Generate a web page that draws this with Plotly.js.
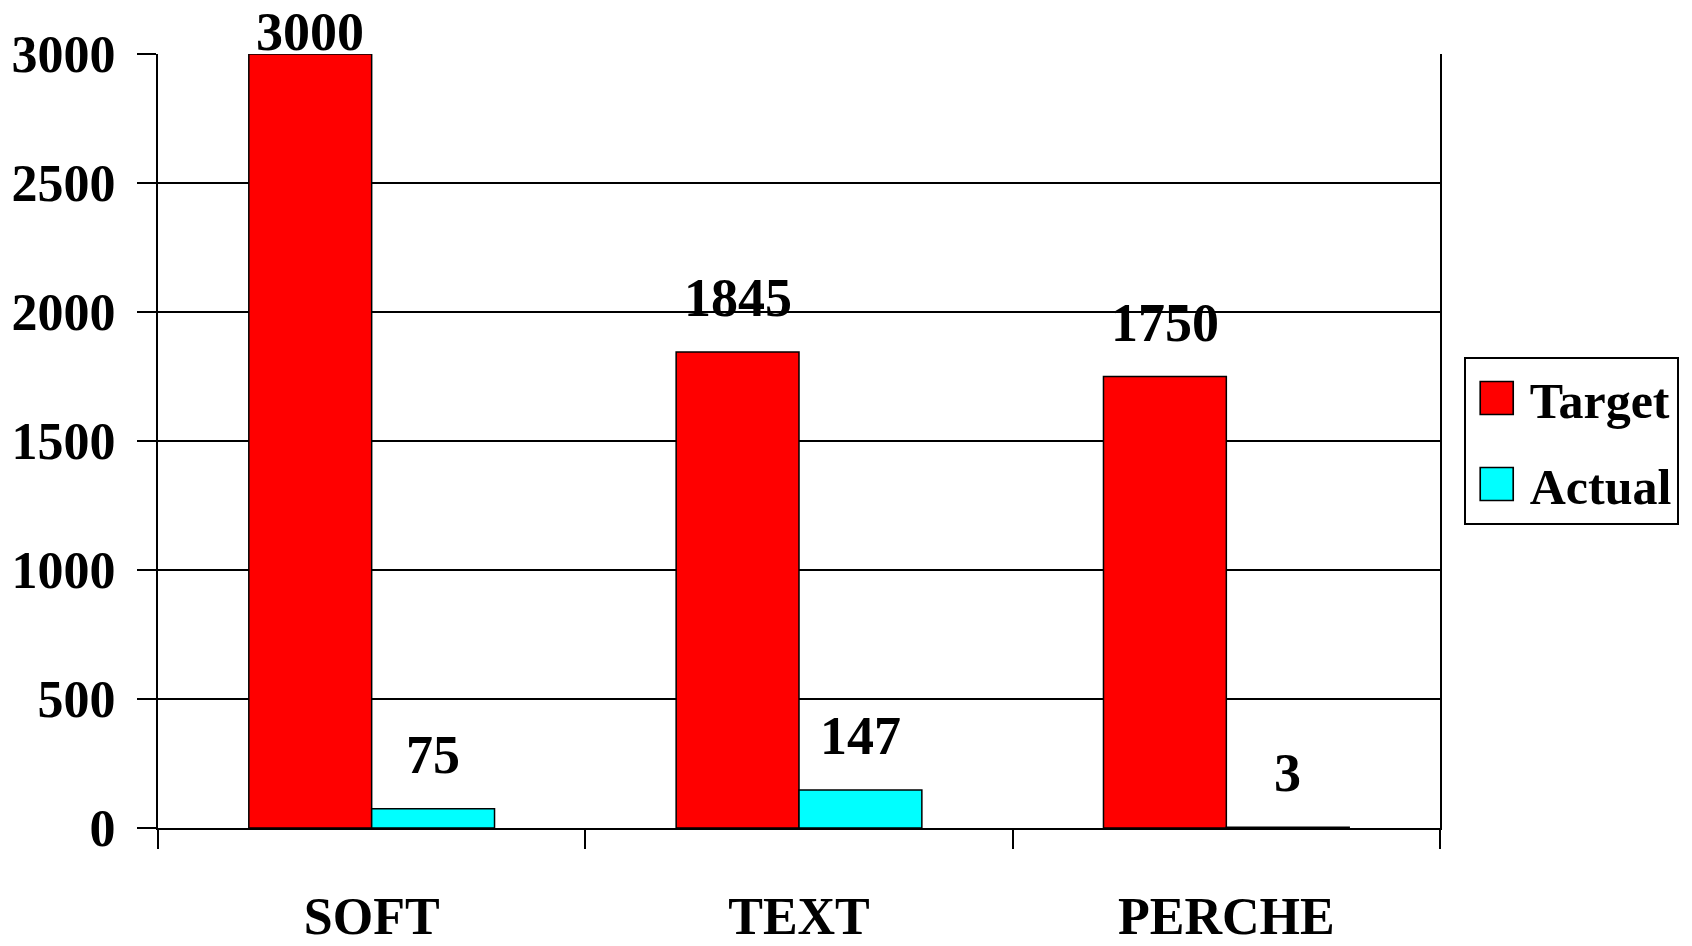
<!DOCTYPE html>
<html>
<head>
<meta charset="utf-8">
<script src="https://cdn.plot.ly/plotly-3.0.1.min.js"></script>
<style>html,body{margin:0;padding:0;background:#fff;}#chart{width:1692px;height:946px;}</style>
</head>
<body>
<div id="chart"></div>
<script>
const categories = ["SOFT", "TEXT", "PERCHE"];
const targetValues = [3000, 1845, 1750];
const actualValues = [75, 147, 3];
const seriesNames = ["Target", "Actual"];
const yTickValues = [0, 500, 1000, 1500, 2000, 2500, 3000];

const W = 1692, H = 946;
const M = {l: 158, r: 252, t: 54, b: 118};
const plotW = W - M.l - M.r, plotH = H - M.t - M.b;
const yMax = 3000;
const bargap = 0.425;
const FONT = "Liberation Serif, Times New Roman, serif";

const catPx = plotW / categories.length;
const barPx = (1 - bargap) / 2 * catPx;
const shiftPx = barPx / 2;

function pixY(v) { return M.t + (1 - v / yMax) * plotH; }
function lift(v) { return Math.min(54, pixY(v) - 32); }

const annotations = [];
[targetValues, actualValues].forEach((vals, si) => {
  vals.forEach((v, i) => {
    annotations.push({
      x: categories[i], y: v, xref: "x", yref: "y",
      text: String(v), showarrow: false,
      xanchor: "center", yanchor: "middle",
      xshift: si === 0 ? -shiftPx : shiftPx,
      yshift: lift(v),
      font: {family: FONT, size: 54, color: "#000", weight: "bold"}
    });
  });
});

const traces = [
  {type: "bar", name: seriesNames[0], x: categories, y: targetValues, legendgroup: "a",
   marker: {color: "#ff0000", line: {color: "#000", width: 1.5}}, hoverinfo: "x+y"},
  {type: "bar", name: seriesNames[1], x: categories, y: actualValues, legendgroup: "b",
   marker: {color: "#00ffff", line: {color: "#000", width: 1.5}}, hoverinfo: "x+y"}
];

const layout = {
  width: W, height: H,
  margin: M,
  paper_bgcolor: "#fff", plot_bgcolor: "#fff",
  barmode: "group", bargap: bargap, bargroupgap: 0,
  font: {family: FONT, size: 50, color: "#000", weight: "bold"},
  xaxis: {
    type: "category", showgrid: false, showline: true, linecolor: "#000", linewidth: 2,
    ticks: "outside", tickson: "boundaries", ticklen: 19, tickwidth: 2, tickcolor: "#000",
    ticklabelstandoff: 42, automargin: false,
    tickfont: {family: FONT, size: 52, color: "#000", weight: "bold"}
  },
  yaxis: {
    range: [0, yMax], tickvals: yTickValues, ticktext: yTickValues.map(String),
    showgrid: true, gridcolor: "#000", gridwidth: 1.5,
    showline: true, linecolor: "#000", linewidth: 2, mirror: true, zeroline: false,
    ticks: "outside", ticklen: 19, tickwidth: 2, tickcolor: "#000",
    ticklabelstandoff: 11, automargin: false,
    tickfont: {family: FONT, size: 52, color: "#000", weight: "bold"}
  },
  legend: {
    x: 1.0185, xanchor: "left", y: 0.5, yanchor: "middle",
    bordercolor: "#000", borderwidth: 2, bgcolor: "#fff",
    traceorder: "grouped", tracegroupgap: 18,
    font: {family: FONT, size: 50, color: "#000", weight: "bold"},
    itemwidth: 54
  },
  showlegend: true,
  annotations: annotations
};

Plotly.newPlot("chart", traces, layout, {displayModeBar: false, staticPlot: true}).then(function () {
  document.querySelectorAll("#chart .legend .legendpoints path").forEach(function (p) {
    p.setAttribute("transform", "translate(31,0) scale(2.75)");
    p.style.strokeWidth = "0.6px";
  });
});
</script>
</body>
</html>
